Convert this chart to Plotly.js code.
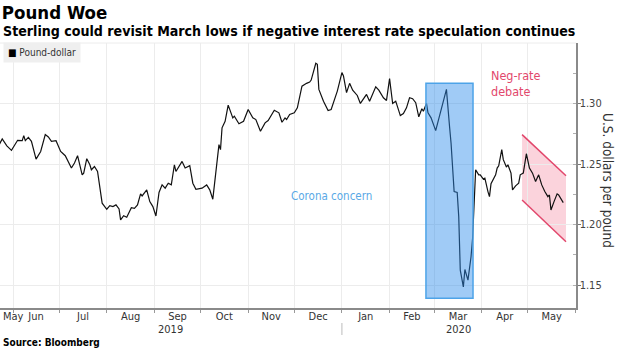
<!DOCTYPE html>
<html>
<head>
<meta charset="utf-8">
<script src="https://cdn.plot.ly/plotly-3.0.1.min.js"></script>
<style>
html,body{margin:0;padding:0;background:#fff;}
#chart{width:620px;height:348px;}
</style>
</head>
<body>
<div id="chart"></div>
<script>
// ---- Data ----
const dates = [
"2019-05-23","2019-05-25","2019-05-28","2019-05-31","2019-06-04","2019-06-07","2019-06-08","2019-06-09","2019-06-11","2019-06-13",
"2019-06-16","2019-06-19","2019-06-22","2019-06-24","2019-06-26","2019-06-29","2019-07-02","2019-07-05","2019-07-09","2019-07-11",
"2019-07-13","2019-07-16","2019-07-17","2019-07-19","2019-07-21","2019-07-22","2019-07-24","2019-07-26","2019-07-29","2019-07-31",
"2019-08-01","2019-08-03","2019-08-05","2019-08-07","2019-08-09","2019-08-10","2019-08-12","2019-08-14","2019-08-17","2019-08-19",
"2019-08-21","2019-08-23","2019-08-24","2019-08-27","2019-08-29","2019-08-31","2019-09-02","2019-09-04","2019-09-06","2019-09-08",
"2019-09-10","2019-09-12","2019-09-14","2019-09-15","2019-09-17","2019-09-19","2019-09-21","2019-09-24","2019-09-26","2019-09-28",
"2019-10-02","2019-10-05","2019-10-07","2019-10-09","2019-10-13","2019-10-14","2019-10-15","2019-10-17","2019-10-19","2019-10-22",
"2019-10-23","2019-10-26","2019-10-29","2019-11-01","2019-11-04","2019-11-06","2019-11-09","2019-11-12","2019-11-14","2019-11-18",
"2019-11-21","2019-11-23","2019-11-25","2019-11-26","2019-11-28","2019-12-01","2019-12-03","2019-12-06","2019-12-09","2019-12-11",
"2019-12-12","2019-12-15","2019-12-16","2019-12-17","2019-12-20","2019-12-23","2019-12-25","2019-12-29","2020-01-01","2020-01-02",
"2020-01-04","2020-01-06","2020-01-08","2020-01-11","2020-01-13","2020-01-15","2020-01-17","2020-01-19","2020-01-23","2020-01-25",
"2020-01-28","2020-01-30","2020-02-01","2020-02-03","2020-02-05","2020-02-08","2020-02-10","2020-02-12","2020-02-14","2020-02-16",
"2020-02-18","2020-02-20","2020-02-22","2020-02-23","2020-02-25","2020-02-26","2020-02-28","2020-03-02","2020-03-05","2020-03-09",
"2020-03-11","2020-03-12","2020-03-14","2020-03-16","2020-03-17","2020-03-18","2020-03-20","2020-03-21","2020-03-23","2020-03-25",
"2020-03-26","2020-03-27","2020-03-28","2020-03-30","2020-03-31","2020-04-02","2020-04-03","2020-04-05","2020-04-06","2020-04-07",
"2020-04-10","2020-04-11","2020-04-12","2020-04-14","2020-04-15","2020-04-17","2020-04-18","2020-04-20","2020-04-21","2020-04-23",
"2020-04-25","2020-04-26","2020-04-28","2020-04-30","2020-05-02","2020-05-04","2020-05-06","2020-05-08","2020-05-10","2020-05-12",
"2020-05-14","2020-05-15","2020-05-16","2020-05-18","2020-05-20","2020-05-21","2020-05-24"
];
const poundDollar = [
1.2660,1.2707,1.2650,1.2613,1.2696,1.2693,1.2735,1.2693,1.2720,1.2687,
1.2541,1.2604,1.2743,1.2724,1.2687,1.2693,1.2604,1.2569,1.2467,1.2508,
1.2569,1.2411,1.2425,1.2544,1.2494,1.2453,1.2480,1.2439,1.2177,1.2149,
1.2127,1.2157,1.2149,1.2163,1.2130,1.2039,1.2074,1.2061,1.2140,1.2135,
1.2163,1.2254,1.2237,1.2287,1.2190,1.2149,1.2071,1.2265,1.2328,1.2301,
1.2342,1.2328,1.2494,1.2439,1.2486,1.2522,1.2467,1.2486,1.2342,1.2292,
1.2301,1.2328,1.2287,1.2210,1.2660,1.2619,1.2799,1.2853,1.2986,1.2881,
1.2895,1.2832,1.2853,1.2950,1.2881,1.2867,1.2770,1.2840,1.2859,1.2944,
1.2923,1.2845,1.2881,1.2867,1.2909,1.2923,1.2964,1.3143,1.3166,1.3177,
1.3193,1.3332,1.3323,1.3116,1.3019,1.2942,1.2950,1.3102,1.3255,1.3227,
1.3089,1.3166,1.3110,1.3066,1.3000,1.3033,1.3075,1.3019,1.3138,1.3110,
1.3047,1.3025,1.3205,1.3000,1.3019,1.2900,1.2917,1.2964,1.3047,1.3039,
1.3006,1.2890,1.2956,1.2936,1.3000,1.2923,1.2881,1.2776,1.2917,1.3116,
1.2812,1.2674,1.2273,1.2265,1.2066,1.1625,1.1486,1.1630,1.1542,1.1735,
1.1886,1.2204,1.2453,1.2411,1.2411,1.2376,1.2384,1.2273,1.2231,1.2337,
1.2411,1.2467,1.2486,1.2619,1.2536,1.2475,1.2494,1.2425,1.2287,1.2320,
1.2342,1.2411,1.2425,1.2585,1.2467,1.2425,1.2356,1.2411,1.2328,1.2273,
1.2231,1.2245,1.2121,1.2190,1.2254,1.2245,1.2182
];
const yTickVals = [1.15, 1.20, 1.25, 1.30];
const yTickText = ["1.15", "1.20", "1.25", "1.30"];
const xRange = ["2019-05-23 13:00", "2020-06-01 07:00"];
const yRange = [1.1312, 1.3499];
const yearBoundary = "2020-01-01";
const yearLabels = ["2019", "2020"];
const firstMonthLabel = "May";
// highlighted windows
const coronaBox = {x: ["2020-02-24 16:00", "2020-03-26 07:00"], y: [1.1392, 1.3166]};
const coronaLabel = {text: "Corona concern", x: "2019-12-25", y: 1.2237};
const negRateLabel = {text: "Neg-rate<br>debate", x: "2020-04-06", y: 1.3166};
const negRateX = ["2020-04-27 05:00", "2020-05-25 19:00"];
const negRateTop = [1.2743, 1.2403];
const negRateBottom = [1.2204, 1.1859];

const FONT = "'DejaVu Sans Condensed', 'DejaVu Sans', sans-serif";

function ms(d){ return new Date(d.replace(" ", "T") + (d.length > 10 ? ":00Z" : "T00:00:00Z")).getTime(); }
function iso(t){ return new Date(t).toISOString().slice(0,19).replace("T"," "); }
const mid2019 = iso((ms(xRange[0]) + ms(yearBoundary)) / 2);
const mid2020 = iso((ms(yearBoundary) + ms(xRange[1])) / 2);
const u = s => s.replace(" ", "_");

const trace = {
  x: dates, y: poundDollar, type: "scatter", mode: "lines",
  line: {color: "#111111", width: 1.2}, name: "Pound-dollar", showlegend: false,
  hoverinfo: "skip"
};

const negPath = "M" + u(negRateX[0]) + "," + negRateTop[0] + "L" + u(negRateX[1]) + "," + negRateTop[1] +
  "L" + u(negRateX[1]) + "," + negRateBottom[1] + "L" + u(negRateX[0]) + "," + negRateBottom[0] + "Z";

const tickLabelRowY = -8/265;

const layout = {
  width: 620, height: 348,
  margin: {l: 0, r: 44, t: 43, b: 40, pad: 0},
  paper_bgcolor: "#ffffff", plot_bgcolor: "#ffffff",
  font: {family: FONT, color: "#333333", size: 10},
  title: {
    text: "<b>Pound Woe</b>", x: 0.003, xanchor: "left", xref: "container",
    y: 1 - 13/348, yref: "container", yanchor: "middle",
    font: {family: FONT, size: 18.5, color: "#000000"}
  },
  xaxis: {
    type: "date", range: xRange,
    tickmode: "linear", tick0: "2019-05-01", dtick: "M1",
    tickformat: "%b", ticklabelmode: "period",
    ticks: "outside", ticklen: 3, tickcolor: "#999999",
    ticklabelstandoff: -6,
    showgrid: true, gridcolor: "#ececec", gridwidth: 1,
    showline: true, linecolor: "#8a8a8a", linewidth: 1.5,
    tickfont: {family: FONT, size: 11, color: "#333333"},
    zeroline: false, fixedrange: true
  },
  yaxis: {
    side: "right", range: yRange,
    tickvals: yTickVals, ticktext: yTickText,
    ticks: "outside", ticklen: 3, tickcolor: "#777777",
    ticklabelstandoff: -3,
    showgrid: true, gridcolor: "#ececec", gridwidth: 1,
    showline: true, linecolor: "#8a8a8a", linewidth: 1.5,
    tickfont: {family: FONT, size: 11, color: "#444444"},
    minor: {dtick: 0.025, tick0: 1.125, ticks: "inside", ticklen: 3, tickcolor: "#b0b0b0", showgrid: false},
    zeroline: false, fixedrange: true
  },
  shapes: [
    {type: "line", xref: "paper", yref: "paper", x0: 0, x1: 1, y0: 1, y1: 1, line: {color: "#ececec", width: 1}},
    {type: "path", xref: "x", yref: "y", path: negPath, fillcolor: "#fbd3dc", line: {width: 0}, layer: "below"},
    {type: "line", xref: "x", yref: "y", x0: negRateX[0], x1: negRateX[1], y0: negRateTop[0], y1: negRateTop[1], line: {color: "#e2476c", width: 1.5}, layer: "above"},
    {type: "line", xref: "x", yref: "y", x0: negRateX[0], x1: negRateX[1], y0: negRateBottom[0], y1: negRateBottom[1], line: {color: "#e2476c", width: 1.5}, layer: "above"},
    {type: "rect", xref: "x", yref: "y", x0: coronaBox.x[0], x1: coronaBox.x[1], y0: coronaBox.y[0], y1: coronaBox.y[1],
      fillcolor: "rgba(45,140,235,0.45)", line: {color: "#4da3e8", width: 1.5}, layer: "above"},
    {type: "line", xref: "x", yref: "paper", x0: yearBoundary, x1: yearBoundary, y0: -15/265, y1: -27/265, line: {color: "#bbbbbb", width: 1}}
  ],
  annotations: [
    {text: "<b>Sterling could revisit March lows if negative interest rate speculation continues</b>",
      xref: "paper", yref: "paper", x: 0, xshift: 1, y: 1 + 12/265, xanchor: "left", yanchor: "middle",
      showarrow: false, font: {family: FONT, size: 14.1, color: "#000000"}},
    {text: "<span style='color:#000'>■</span> Pound-dollar",
      xref: "paper", yref: "paper", x: 0, xshift: 3, y: 1, yshift: 1, xanchor: "left", yanchor: "top",
      showarrow: false, bgcolor: "#efefef", borderpad: 4, font: {family: FONT, size: 10, color: "#333333"}},
    {text: coronaLabel.text, xref: "x", yref: "y", x: coronaLabel.x, y: coronaLabel.y, xanchor: "center", yanchor: "middle",
      showarrow: false, font: {family: FONT, size: 11.5, color: "#5aa9e6"}},
    {text: negRateLabel.text, xref: "x", yref: "y", x: negRateLabel.x, y: negRateLabel.y, xanchor: "left", yanchor: "middle", align: "left",
      showarrow: false, font: {family: FONT, size: 12.5, color: "#e2476c"}},
    {text: "U.S. dollars per pound", xref: "paper", yref: "paper", x: 1, xshift: 32, y: 0.483, textangle: 90,
      xanchor: "center", yanchor: "middle", showarrow: false, font: {family: FONT, size: 13.5, color: "#333333"}},
    {text: firstMonthLabel, xref: "paper", yref: "paper", x: 0, xshift: 1, y: tickLabelRowY, xanchor: "left", yanchor: "middle",
      showarrow: false, font: {family: FONT, size: 11, color: "#333333"}},
    {text: yearLabels[0], xref: "x", yref: "paper", x: mid2019, y: -21/265, yanchor: "middle", xanchor: "center",
      showarrow: false, font: {family: FONT, size: 11, color: "#333333"}},
    {text: yearLabels[1], xref: "x", yref: "paper", x: mid2020, y: -21/265, yanchor: "middle", xanchor: "center",
      showarrow: false, font: {family: FONT, size: 11, color: "#333333"}},
    {text: "<b>Source: Bloomberg</b>", xref: "paper", yref: "paper", x: 0, xshift: 1, y: -34/265, xanchor: "left", yanchor: "middle",
      showarrow: false, font: {family: FONT, size: 10, color: "#000000"}}
  ]
};

Plotly.newPlot("chart", [trace], layout, {displayModeBar: false, staticPlot: true});
</script>
</body>
</html>
